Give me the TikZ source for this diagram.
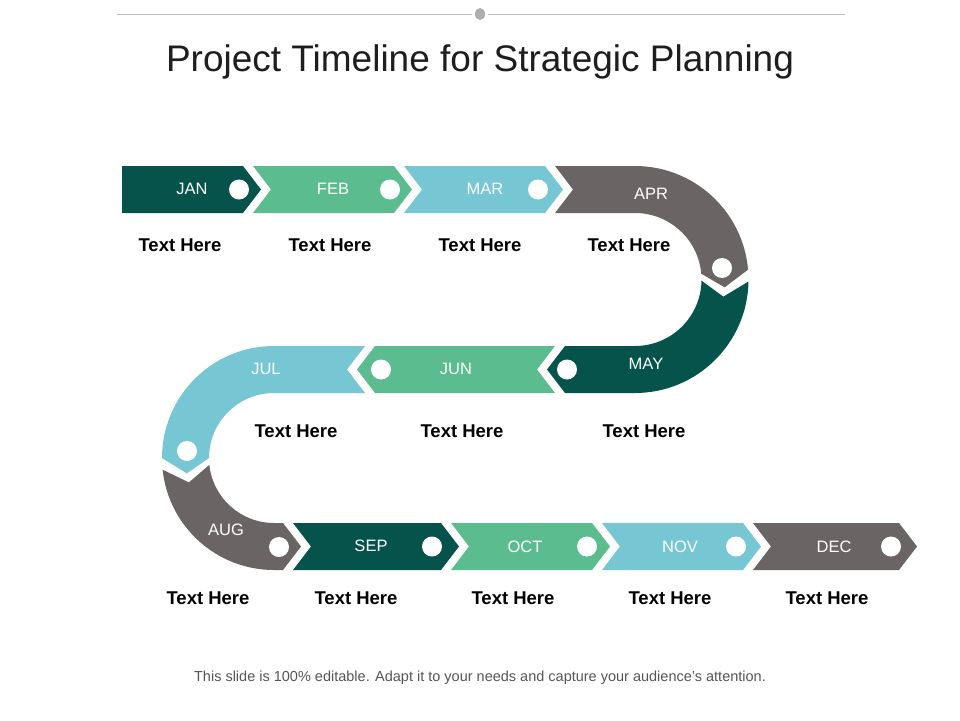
\documentclass[tikz,border=0pt]{standalone}
\usepackage{fontspec}
\setmainfont{Liberation Sans}
\usetikzlibrary{calc,shapes.geometric}
\definecolor{ink}{RGB}{30,30,30}
\definecolor{soft}{RGB}{190,190,190}
\definecolor{footgray}{RGB}{85,85,85}
\definecolor{deepteal}{RGB}{5,83,74}
\definecolor{mint}{RGB}{90,188,143}
\definecolor{sky}{RGB}{118,199,211}
\definecolor{stone}{RGB}{107,100,100}
\tikzset{
  month/.style={text=white, inner sep=1pt, font=\fontsize{16.5}{20}\selectfont},
  dot/.style={circle, fill=white, minimum size=20pt, inner sep=0pt},
  tag/.style={text=black, inner sep=1pt, font=\bfseries\fontsize{18.5}{22}\selectfont},
  heading/.style={text=ink, font=\fontsize{37}{44}\selectfont},
  foot/.style={text=footgray, font=\fontsize{14.5}{17}\selectfont},
}
% arrow band running right: colour, notch x, corner x, top y
\newcommand{\bandR}[4]{\fill[#1] (#2,#4) -- (#3,#4) -- ({#3+18},{#4+23.5}) -- (#3,{#4+47}) -- (#2,{#4+47}) -- ({#2+18},{#4+23.5}) -- cycle;}

\begin{document}
\begin{tikzpicture}[x=1pt, y=-1pt]
  \useasboundingbox (0,0) rectangle (960,720);
  \fill[white] (0,0) rectangle (960,720);
  % top rule and title
  \coordinate (ruleL) at (117,14);
  \coordinate (ruleR) at (845,14);
  \node[ellipse, fill=soft!92!black, minimum width=10pt, minimum height=12pt, inner sep=0pt] (knob) at (480,14) {};
  \draw[soft, line width=1pt] (ruleL) -- ($(knob.west)+(-3,0)$);
  \draw[soft, line width=1pt] ($(knob.east)+(3,0)$) -- (ruleR);
  \node[heading] (title) at (480,62) {Project Timeline for Strategic Planning};

  % centres of the two bends
  \coordinate (rc) at (635,279.5);
  \coordinate (lc) at (274,458);

  % row 1
  \fill[deepteal] (122,166) -- (243,166) -- (261,189.5) -- (243,213) -- (122,213) -- cycle;
  \bandR{mint}{253}{394}{166}
  \bandR{sky}{404}{545}{166}
  \fill[stone] (555,166) -- (635,166) arc[start angle=-90, end angle=-5, radius=113.5]
    -- ($(rc)+(5:90)$) -- ($(rc)+(-5:66.5)$) arc[start angle=-5, end angle=-90, radius=66.5]
    -- (555,213) -- (573,189.5) -- cycle;

  % row 2, running left
  \fill[deepteal] ($(rc)+(1:113.5)$) arc[start angle=1, end angle=90, radius=113.5]
    -- (565,393) -- (547,369.5) -- (565,346) -- (635,346) arc[start angle=90, end angle=1, radius=66.5]
    -- ($(rc)+(11:90)$) -- cycle;
  \fill[mint] (555,346) -- (375,346) -- (357,369.5) -- (375,393) -- (555,393) -- (537,369.5) -- cycle;
  \fill[sky] (365,346) -- (274,346) arc[start angle=270, end angle=180, radius=112]
    -- ($(lc)+(170:88.5)$) -- ($(lc)+(180:65)$) arc[start angle=180, end angle=270, radius=65]
    -- (365,393) -- (347,369.5) -- cycle;

  % row 3
  \fill[stone] ($(lc)+(174:112)$) arc[start angle=174, end angle=90, radius=112]
    -- (283,570) -- (301,546.5) -- (283,523) -- (274,523) arc[start angle=90, end angle=174, radius=65]
    -- ($(lc)+(164:88.5)$) -- cycle;
  \bandR{deepteal}{293}{441}{523}
  \bandR{mint}{451}{592}{523}
  \bandR{sky}{602}{743}{523}
  \bandR{stone}{753}{899}{523}

  % month labels
  \node[month] (jan) at (192,189) {JAN};
  \node[month] (feb) at (333,189) {FEB};
  \node[month] (mar) at (485,189) {MAR};
  \node[month] (apr) at (651,194) {APR};
  \node[month] (may) at (646,364) {MAY};
  \node[month] (jun) at (456,369) {JUN};
  \node[month] (jul) at (266,369) {JUL};
  \node[month] (aug) at (226,530) {AUG};
  \node[month] (sep) at (371,546) {SEP};
  \node[month] (oct) at (525,547) {OCT};
  \node[month] (nov) at (680,547) {NOV};
  \node[month] (dec) at (834,547) {DEC};

  % white dots
  \node[dot] (jan-dot) at (239,189.5) {};
  \node[dot] (feb-dot) at (390,189.5) {};
  \node[dot] (mar-dot) at (538,189.5) {};
  \node[dot] (apr-dot) at (722,268) {};
  \node[dot] (may-dot) at (567,369.5) {};
  \node[dot] (jun-dot) at (381,369.5) {};
  \node[dot] (jul-dot) at (187,451) {};
  \node[dot] (aug-dot) at (279,547) {};
  \node[dot] (sep-dot) at (432,546.5) {};
  \node[dot] (oct-dot) at (587,546.5) {};
  \node[dot] (nov-dot) at (736,546.5) {};
  \node[dot] (dec-dot) at (891,546.5) {};

  % captions
  \node[tag] (jan-tag) at (180,245) {Text Here};
  \node[tag] (feb-tag) at (330,245) {Text Here};
  \node[tag] (mar-tag) at (480,245) {Text Here};
  \node[tag] (apr-tag) at (629,245) {Text Here};
  \node[tag] (may-tag) at (644,431) {Text Here};
  \node[tag] (jun-tag) at (462,431) {Text Here};
  \node[tag] (jul-tag) at (296,431) {Text Here};
  \node[tag] (aug-tag) at (208,598) {Text Here};
  \node[tag] (sep-tag) at (356,598) {Text Here};
  \node[tag] (oct-tag) at (513,598) {Text Here};
  \node[tag] (nov-tag) at (670,598) {Text Here};
  \node[tag] (dec-tag) at (827,598) {Text Here};

  \node[foot] (footer) at (480,678) {This slide is 100\% editable. Adapt it to your needs and capture your audience's attention.};
\end{tikzpicture}
\end{document}
